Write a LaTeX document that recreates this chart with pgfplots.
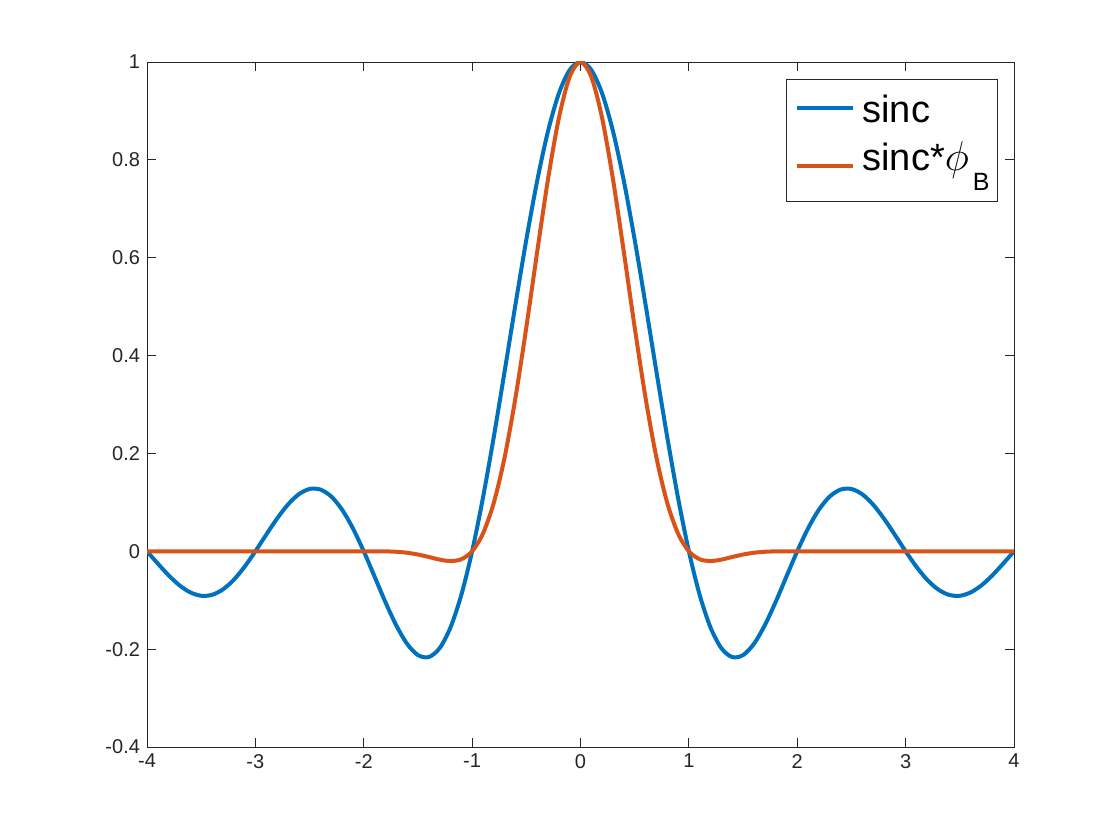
\documentclass[border=0pt]{standalone}
\usepackage{fontspec}
\setmainfont{Liberation Sans}
\usepackage{pgfplots}
\pgfplotsset{compat=1.18}
\definecolor{mblue}{rgb}{0,0.447,0.741}
\definecolor{morange}{rgb}{0.85,0.325,0.098}
\definecolor{axgray}{rgb}{0.15,0.15,0.15}
\begin{document}
\begin{tikzpicture}[x=1pt,y=1pt]
\useasboundingbox (0,0) rectangle (560,420);
\begin{axis}[at={(73.5pt,46.5pt)}, anchor=south west, scale only axis,
 width=433.5pt, height=342.5pt,
 xmin=-4, xmax=4, ymin=-0.4, ymax=1,
 xtick={-4,-3,-2,-1,0,1,2,3,4},
 ytick={-0.4,-0.2,0,0.2,0.4,0.6,0.8,1},
 tick align=inside, major tick length=4.3pt,
 tick style={axgray, line width=0.4pt},
 axis line style={axgray, line width=0.4pt},
 ticklabel style={font=\fontsize{10}{12}\selectfont, text=axgray},
 /pgf/number format/assume math mode=true,
 legend style={at={(1,1)}, anchor=north east, xshift=-8pt, yshift=-8.5pt,
   font=\fontsize{19}{23}\selectfont, draw=axgray, line width=0.4pt,
   inner xsep=4pt, inner ysep=7.5pt, row sep=2pt, column sep=4pt,
   nodes={inner sep=0pt, text height=14pt, text depth=8pt}},
 legend cell align=left,
]
\addplot[mblue, line width=2pt, smooth,
  legend image code/.code={\draw[mblue, line width=2pt] (0pt,4pt) -- (28pt,4pt);}] coordinates {
(-4.0,0) (-3.9,-0.025221) (-3.8,-0.049236) (-3.7,-0.069599) (-3.6,-0.084092)
(-3.5,-0.090946) (-3.4,-0.089037) (-3.3,-0.078036) (-3.2,-0.058468) (-3.1,-0.031730)
(-3.0,0) (-2.9,0.033918) (-2.8,0.066820) (-2.7,0.095377) (-2.6,0.116435)
(-2.5,0.127324) (-2.4,0.126138) (-2.3,0.111963) (-2.2,0.085044) (-2.1,0.046840)
(-2.0,0) (-1.9,-0.051770) (-1.8,-0.103943) (-1.7,-0.151481) (-1.6,-0.189207)
(-1.5,-0.212207) (-1.4,-0.216236) (-1.3,-0.198090) (-1.2,-0.155914) (-1.1,-0.089421)
(-1.0,0) (-0.9,0.109292) (-0.8,0.233872) (-0.7,0.367883) (-0.6,0.504551)
(-0.5,0.636620) (-0.4,0.756827) (-0.3,0.858394) (-0.2,0.935489) (-0.1,0.983632)
(0,1)
(0.1,0.983632) (0.2,0.935489) (0.3,0.858394) (0.4,0.756827) (0.5,0.636620)
(0.6,0.504551) (0.7,0.367883) (0.8,0.233872) (0.9,0.109292) (1.0,0)
(1.1,-0.089421) (1.2,-0.155914) (1.3,-0.198090) (1.4,-0.216236) (1.5,-0.212207)
(1.6,-0.189207) (1.7,-0.151481) (1.8,-0.103943) (1.9,-0.051770) (2.0,0)
(2.1,0.046840) (2.2,0.085044) (2.3,0.111963) (2.4,0.126138) (2.5,0.127324)
(2.6,0.116435) (2.7,0.095377) (2.8,0.066820) (2.9,0.033918) (3.0,0)
(3.1,-0.031730) (3.2,-0.058468) (3.3,-0.078036) (3.4,-0.089037) (3.5,-0.090946)
(3.6,-0.084092) (3.7,-0.069599) (3.8,-0.049236) (3.9,-0.025221) (4.0,0)
};
\addlegendentry{sinc}
\addplot[morange, line width=2pt, smooth,
  legend image code/.code={\draw[morange, line width=2pt] (0pt,-1pt) -- (28pt,-1pt);}] coordinates {
(-4.0,0) (-3.5,0) (-3.0,0) (-2.5,0) (-2.0,0)
(-1.9,-0.000013) (-1.8,-0.000208) (-1.7,-0.001023) (-1.6,-0.003027) (-1.5,-0.006632)
(-1.4,-0.011677) (-1.3,-0.016986) (-1.2,-0.019957) (-1.1,-0.016297) (-1.0,0)
(-0.9,0.036258) (-0.8,0.099162) (-0.7,0.192127) (-0.6,0.313831) (-0.5,0.457571)
(-0.4,0.611516) (-0.3,0.759893) (-0.2,0.884973) (-0.1,0.969615) (0,1)
(0.1,0.969615) (0.2,0.884973) (0.3,0.759893) (0.4,0.611516) (0.5,0.457571)
(0.6,0.313831) (0.7,0.192127) (0.8,0.099162) (0.9,0.036258) (1.0,0)
(1.1,-0.016297) (1.2,-0.019957) (1.3,-0.016986) (1.4,-0.011677) (1.5,-0.006632)
(1.6,-0.003027) (1.7,-0.001023) (1.8,-0.000208) (1.9,-0.000013) (2.0,0)
(2.5,0) (3.0,0) (3.5,0) (4.0,0)
};
\addlegendentry{sinc*{\fontsize{21}{24}\selectfont$\phi$}\kern2pt\raisebox{-10pt}{\fontsize{12.5}{14}\selectfont B}}
\end{axis}
\end{tikzpicture}
\end{document}
